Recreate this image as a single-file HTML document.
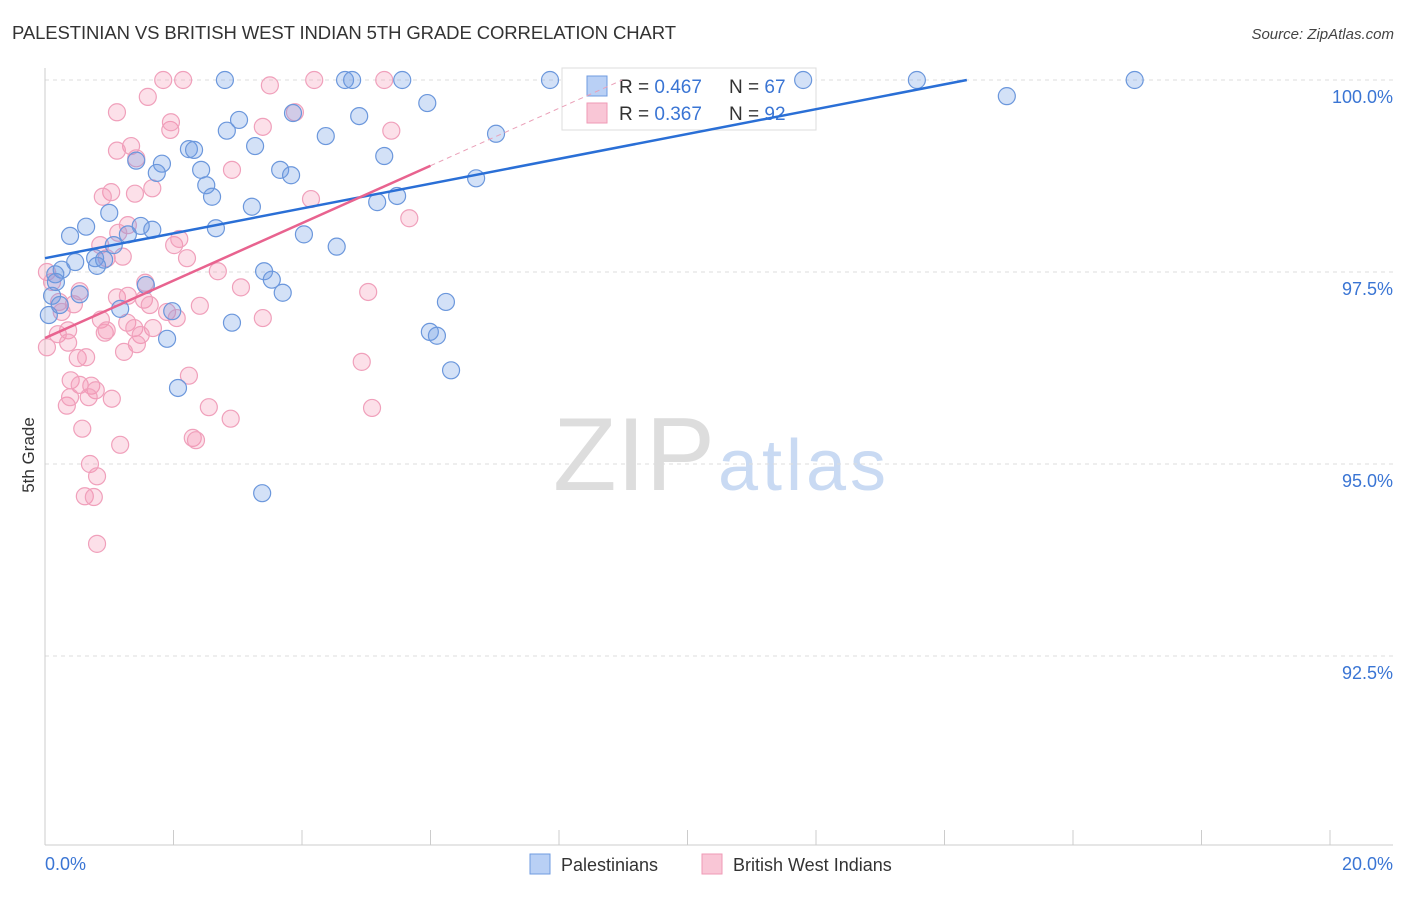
<!DOCTYPE html>
<html><head><meta charset="utf-8"><style>
body{margin:0;background:#fff;font-family:"Liberation Sans",sans-serif}
svg text{font-family:"Liberation Sans",sans-serif}
</style></head><body>
<svg id="c" width="1406" height="892">
<text x="12" y="39" font-size="18.5" fill="#333" textLength="664">PALESTINIAN VS BRITISH WEST INDIAN 5TH GRADE CORRELATION CHART</text>
<text x="1394" y="39" font-size="15" fill="#444" font-style="italic" text-anchor="end">Source: ZipAtlas.com</text>
<text transform="translate(34,455) rotate(-90)" font-size="17" fill="#333" text-anchor="middle">5th Grade</text>
<g><text x="553" y="490" font-size="104" fill="#ddd" font-family="Liberation Serif,serif" textLength="162">ZIP</text><text x="718" y="490" font-size="72" fill="#c9daf3" textLength="168">atlas</text></g>
<g id="grid"></g><g id="axes"></g>
<g>
<rect x="562" y="68" width="254" height="62" fill="#fff" stroke="#ddd"/>
<rect x="587" y="76" width="20" height="20" fill="#b9d0f5" stroke="#6f9be0"/>
<text x="619" y="93" font-size="19" fill="#333">R = <tspan fill="#3a75d4">0.467</tspan></text>
<text x="729" y="93" font-size="19" fill="#333">N = <tspan fill="#3a75d4">67</tspan></text>
<rect x="587" y="103" width="20" height="20" fill="#f9c6d6" stroke="#ef9ab6"/>
<text x="619" y="120" font-size="19" fill="#333">R = <tspan fill="#3a75d4">0.367</tspan></text>
<text x="729" y="120" font-size="19" fill="#333">N = <tspan fill="#3a75d4">92</tspan></text>
</g>
<g id="pts"></g><g id="lines"></g>
<g>
<rect x="530" y="854" width="20" height="20" fill="#b9d0f5" stroke="#6f9be0"/>
<text x="561" y="871" font-size="18" fill="#333">Palestinians</text>
<rect x="702" y="854" width="20" height="20" fill="#f9c6d6" stroke="#ef9ab6"/>
<text x="733" y="871" font-size="18" fill="#333">British West Indians</text>
</g>
</svg>
<script>
const yTicks=[100,97.5,95,92.5];
const yTickLabels=["100.0%","97.5%","95.0%","92.5%"];
const blueX=[2.80,4.67,4.78,5.56,7.86,11.80,13.57,16.96,14.97,5.95,3.86,3.02,4.89,2.83,4.37,7.02,3.27,2.24,2.32,5.28,1.42,1.82,1.74,2.43,3.66,3.83,2.51,2.60,5.48,5.17,6.71,3.22,1.00,0.39,0.64,1.49,1.29,1.67,2.66,4.03,4.54,1.07,0.78,0.92,0.47,0.26,0.16,0.81,3.41,3.53,3.70,0.54,1.57,0.11,0.06,1.17,1.98,2.91,5.99,6.10,6.24,1.90,6.32,2.07,3.38,0.17,0.23];
const blueY=[100,100,100,100,100,100,100,100,99.79,99.70,99.57,99.48,99.53,99.34,99.27,99.30,99.14,99.10,99.09,99.01,98.95,98.91,98.79,98.83,98.83,98.76,98.63,98.48,98.49,98.41,98.72,98.35,98.27,97.97,98.09,98.10,97.99,98.05,98.07,97.99,97.83,97.85,97.68,97.66,97.63,97.53,97.47,97.58,97.51,97.40,97.23,97.21,97.33,97.19,96.94,97.02,96.99,96.84,96.72,96.67,97.11,96.63,96.22,95.99,94.62,97.37,97.07];
const pinkX=[1.84,2.15,3.50,4.19,5.28,1.60,1.12,3.89,3.39,1.95,1.96,5.39,1.34,1.12,1.42,2.91,1.67,1.03,0.90,1.40,4.14,5.67,1.29,1.14,2.01,2.09,0.86,2.21,0.96,1.21,2.69,0.03,0.11,1.56,3.05,0.54,0.22,0.45,1.12,1.29,1.54,1.63,5.03,2.41,1.90,2.05,0.26,0.36,0.87,1.28,1.39,0.93,0.96,1.68,1.49,0.20,1.43,0.36,1.23,0.03,0.51,0.64,4.93,2.24,0.40,0.54,0.72,0.79,0.68,1.04,0.34,2.55,5.09,2.89,0.58,2.30,2.35,1.17,0.70,0.81,0.62,0.76,0.81,3.39,0.39];
const pinkY=[100,100,99.93,100,100,99.78,99.58,99.58,99.39,99.35,99.45,99.34,99.14,99.08,98.98,98.83,98.59,98.54,98.48,98.52,98.45,98.20,98.11,98.01,97.85,97.93,97.85,97.68,97.68,97.70,97.51,97.50,97.37,97.36,97.30,97.25,97.11,97.08,97.17,97.19,97.14,97.07,97.24,97.06,96.98,96.90,96.98,96.74,96.88,96.84,96.77,96.71,96.74,96.77,96.68,96.69,96.56,96.58,96.46,96.52,96.38,96.39,96.33,96.15,96.09,96.03,96.02,95.96,95.87,95.85,95.76,95.74,95.73,95.59,95.46,95.34,95.31,95.25,95.00,94.84,94.58,94.57,93.96,96.90,95.87];
const blueTrend=[97.68,0.1617];
const pinkTrend=[96.64,0.374];
const NS="http://www.w3.org/2000/svg";
const X0=45,X1=1330,Y100=80,PX25=192;
const sx=v=>X0+(X1-X0)*v/20;
const sy=v=>Y100+(100-v)/2.5*PX25;
function mk(p,t,a){const e=document.createElementNS(NS,t);for(const k in a)e.setAttribute(k,a[k]);document.getElementById(p).appendChild(e);return e;}
yTicks.forEach((t,i)=>{
 const g=mk('grid','line',{x1:45,x2:1393,y1:sy(t),y2:sy(t),stroke:'#ddd','stroke-dasharray':'4,4'});
 
 
 const l=mk('grid','text',{x:1393,y:sy(t)+23,'text-anchor':'end','font-size':18,fill:'#3a75d4'});l.textContent=yTickLabels[i];
 
 
});
const ax=mk('axes','line',{x1:45,x2:45,y1:68,y2:845,stroke:'#ccc'});


const bx=mk('axes','line',{x1:45,x2:1393,y1:845,y2:845,stroke:'#ccc'});


for(let i=0;i<=10;i++){const t=mk('axes','line',{x1:sx(i*2),x2:sx(i*2),y1:830,y2:845,stroke:'#ccc'});
 
 }
const xl0=mk('axes','text',{x:45,y:870,'font-size':18,fill:'#3a75d4'});xl0.textContent='0.0%';


const xl1=mk('axes','text',{x:1393,y:870,'font-size':18,fill:'#3a75d4','text-anchor':'end'});xl1.textContent='20.0%';


pinkX.forEach((v,i)=>{const c=mk('pts','circle',{cx:sx(v),cy:sy(pinkY[i]),r:8.5,fill:'rgba(244,143,177,0.28)',stroke:'#f0a0bb','stroke-width':1.2});
 
 });
blueX.forEach((v,i)=>{const c=mk('pts','circle',{cx:sx(v),cy:sy(blueY[i]),r:8.5,fill:'rgba(110,155,230,0.3)',stroke:'#6b97dc','stroke-width':1.2});
 
 });
const bEnd=(100-blueTrend[0])/blueTrend[1];
const bl=mk('lines','line',{x1:sx(0),y1:sy(blueTrend[0]),x2:sx(bEnd),y2:sy(100),stroke:'#2a6fd6','stroke-width':2.5});


const pEnd=6,pDash=(100-pinkTrend[0])/pinkTrend[1];
const pl=mk('lines','line',{x1:sx(0),y1:sy(pinkTrend[0]),x2:sx(pEnd),y2:sy(pinkTrend[0]+pinkTrend[1]*pEnd),stroke:'#e8638f','stroke-width':2.5});


const pd=mk('lines','line',{x1:sx(pEnd),y1:sy(pinkTrend[0]+pinkTrend[1]*pEnd),x2:sx(pDash),y2:sy(100),stroke:'#eaa0b8','stroke-width':1,'stroke-dasharray':'5,4'});


</script>
</body></html>
